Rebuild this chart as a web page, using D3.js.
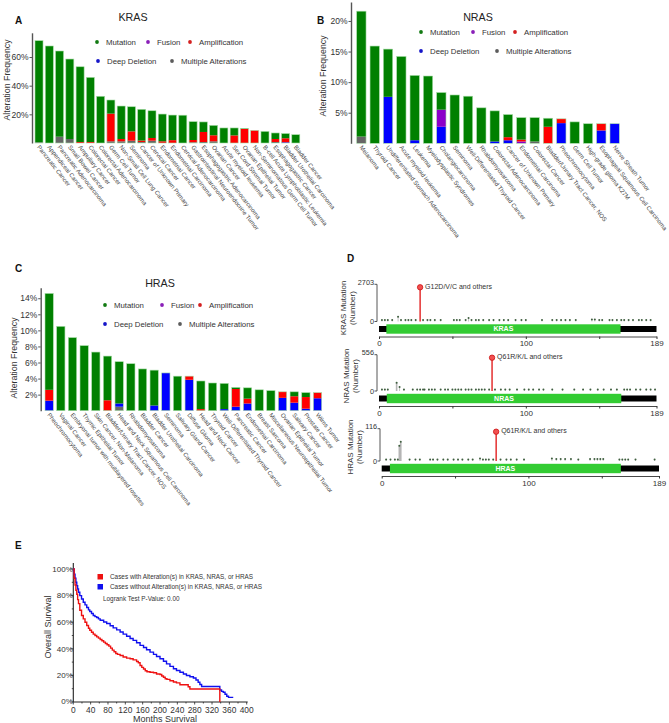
<!DOCTYPE html>
<html><head><meta charset="utf-8">
<script src="https://cdn.jsdelivr.net/npm/d3@7"></script>
<style>body{margin:0;background:#fff}svg{display:block;font-family:"Liberation Sans",Arial,Helvetica,sans-serif}</style>
</head><body><svg id="c" width="669" height="723"></svg>
<script>
// ---------------- DATA ----------------
const seriesNames = ["Mutation","Fusion","Amplification","Deep Deletion","Multiple Alterations"];

// Panel A: KRAS alteration frequency (%)
const krasCancers = ["Pancreatic Cancer","Appendiceal Cancer","Pancreatic Adenocarcinoma","Small Bowel Cancer","Ampullary Cancer","Colorectal Cancer","Colorectal Adenocarcinoma","Germ Cell Tumor","Non-Small Cell Lung Cancer","Seminoma","Cancer of Unknown Primary","Cervical Cancer","Endometrial Cancer","Endometrial Carcinoma","Cervical Adenocarcinoma","Gastrointestinal Neuroendocrine Tumor","Esophagogastric Adenocarcinoma","Ovarian Cancer","Acute myeloid leukemia","Sex Cord Stromal Tumor","Ovarian Epithelial Tumor","Non-Seminomatous Germ Cell Tumor","B-cell Acute Lymphoblastic Leukemia","Esophagogastric Cancer","Bladder Urothelial Carcinoma","Bladder Cancer"];
const krasMutation      = [70.9,67.7,59.8,55.8,52.5,45.1,32.6,9.5,23.0,17.2,21.8,19.0,19.0,17.5,19.4,12.8,7.0,6.9,10.5,5.2,0.4,0,8.1,4.2,3.3,5.8];
const krasFusion        = [0,0,0,0,0,0,0,0,0,0,0,0,0,0,0,0,0,0,0,0,0,0,0,0,0,0];
const krasAmplification = [0,0,0,0,0.7,0.7,0,19.3,1.6,6.5,1.0,1.9,1.2,2.0,0,1.6,7.0,4.2,0,5.3,9.8,8.8,0,2.1,2.8,0];
const krasDeepDeletion  = [0,0,0,0,0,0,0,0,0,0,0,0,0,0,0,0,0,0,0,0,0,0,0,0,0.5,0];
const krasMultiple      = [0.5,0,4.4,2.8,0,0,0,1.2,1.2,1.6,0.7,1.6,0,0,0,0.5,0.7,1.2,0,0,0,0,0,0.7,0,0];
const krasTicks = [20,40,60];

// Panel B: NRAS
const nrasCancers = ["Melanoma","Thyroid Cancer","Undifferentiated Stomach Adenocarcinoma","Acute myeloid leukemia","Leukemia","Myelodysplastic Syndromes","Cholangiocarcinoma","Seminoma","Well-Differentiated Thyroid Cancer","Rhabdomyosarcoma","Colorectal Adenocarcinoma","Cancer of Unknown Primary","Endometrial Carcinoma","Colorectal Cancer","Bladder/Urinary Tract Cancer, NOS","Pheochromocytoma","Germ Cell Tumor","High-grade glioma K27M","Esophageal Squamous Cell Carcinoma","Nerve Sheath Tumor"];
const nrasMutation      = [20.5,15.9,7.8,14.2,10.6,11.0,2.8,7.9,7.7,5.8,5.0,3.7,3.6,3.9,1.4,0,3.5,3.2,0,0];
const nrasFusion        = [0,0,0,0,0,0,2.8,0,0,0,0,0,0.3,0,0,0,0,0,0,0];
const nrasAmplification = [0,0,0,0,0,0,0,0,0,0,0,0.5,0.3,0,2.7,0.7,0,0,1.1,0];
const nrasDeepDeletion  = [0,0,7.6,0,0.5,0,2.7,0,0,0,0.3,0.5,0,0,0,3.3,0,0,2.1,3.2];
const nrasMultiple      = [1.1,0,0,0,0,0,0,0,0,0,0,0,0,0.3,0,0,0,0,0,0];
const nrasTicks = [5,10,15,20];

// Panel C: HRAS
const hrasCancers = ["Pheochromocytoma","Vaginal Cancer","Embryonal tumor with multilayered rosettes","Thymic Epithelial Tumor","Skin Cancer, Non-Melanoma","Bladder/Urinary Tract Cancer, NOS","Head and Neck Squamous Cell Carcinoma","Rhabdomyosarcoma","Bladder Cancer","Bladder Urothelial Carcinoma","Seminoma","Salivary Gland Cancer","Diffuse Glioma","Head and Neck Cancer","Thyroid Cancer","Well-Differentiated Thyroid Cancer","Pancreatic Cancer","Endometrial Carcinoma","Breast Sarcoma","Miscellaneous Neuroepithelial Tumor","Ovarian Epithelial Tumor","Salivary Cancer","Prostate Cancer","Wilms Tumor"];
const hrasMutation      = [12.0,10.5,9.1,8.1,7.3,5.5,5.2,5.85,5.2,4.4,0,4.3,0,3.5,3.45,3.2,0.2,1.35,2.6,2.5,0,0.55,0.55,0];
const hrasFusion        = [0,0,0,0,0,0,0,0,0,0,0,0,0,0,0,0,0,0,0,0,0,0,0,0];
const hrasAmplification = [1.35,0,0,0,0,1.3,0,0,0,0,0,0,0.45,0.2,0,0,2.2,0.6,0,0,0.75,0.8,1.45,0.7];
const hrasDeepDeletion  = [1.25,0,0,0,0,0,0.4,0,0,0.65,4.7,0,3.85,0,0,0.2,0.5,0.9,0,0,1.6,1.0,0.25,1.55];
const hrasMultiple      = [0,0,0,0,0,0,0.5,0,0,0,0,0,0,0,0,0,0,0,0,0,0,0,0,0];
const hrasTicks = [2,4,6,8,10,12,14];

// Panel D: lollipop mutation counts (protein length 189 aa)
const krasHotspot = {pos:28, count:2703, label:"G12D/V/C and others"};
const krasMutPos   = [2,4,6,9,13,15,18,20,22,25,30,33,35,38,42,51,53,55,59,61,63,66,68,71,75,78,82,85,88,93,97,100,111,118,121,124,127,130,134,145,147,150,152,157,159,162,165,167,170,173,177,179,182,185];
const krasMutCount = [120,120,120,120,380,120,120,120,120,120,120,120,120,120,120,120,120,120,120,277,120,120,120,120,120,120,120,120,120,120,120,120,120,120,120,120,120,120,120,150,150,120,120,120,120,120,120,120,120,120,120,120,120,120];
const nrasHotspot = {pos:77, count:556, label:"Q61R/K/L and others"};
const nrasMutPos   = [2,4,6,12,14,17,23,26,28,30,31,34,36,38,42,45,47,50,52,54,56,59,61,63,66,68,70,72,75,79,83,86,89,94,99,102,105,109,112,118,125,133,139,144,149,153,158,162,167,169,171,175,178,182,185,188];
const nrasMutCount = [25,25,25,139,67,25,25,25,25,25,25,25,25,25,25,25,25,25,25,25,25,25,25,25,25,25,25,25,25,25,25,25,25,25,25,25,25,25,25,25,25,25,25,25,25,25,25,25,25,25,25,25,25,25,25,25];
const hrasHotspot = {pos:78, count:116, label:"Q61R/K/L and others"};
const hrasMutPos   = [3,6,9,11,12,13,19,23,26,33,35,38,42,45,49,52,55,59,62,67,69,71,73,76,81,85,88,92,97,116,119,122,125,129,134,142,145,147,149,151,162,164,166,168,173,186];
const hrasMutCount = [6,6,6,6,60,76,6,6,6,6,6,6,6,6,6,6,6,6,6,10,6,6,6,6,6,6,6,6,6,10,8,8,8,8,6,8,8,8,8,8,6,6,6,6,6,6];
const geneNames = ["KRAS","NRAS","HRAS"];

// Panel E: Kaplan-Meier overall survival
const kmMonthsAltered   = [0,2,4,6,8,10,12,15,19,23,27,31,35,38,42,46,50,54,58,62,66,70,74,78,82,86,90,94,98,102,108,115,123,131,138,146,150,154,158,162,166,170,177,185,192,200,204,208,212,216,223,231,238,246,261,265,269,338,338];
const kmSurvivalAltered = [100,93,88,84,81,77,74,69,65,62.5,60,57.5,55.5,54,52.5,51,50,49,48,47,46,45,44,43,42,40.5,39,37.8,36.5,35.8,35,33.8,33,32.5,31.7,30.5,29.5,27.5,26,24.8,23.5,22.8,22.4,22,21,20.7,19.5,18.6,17.5,17,16,15,14.4,13,13,11.5,9.8,9.8,0];
const kmMonthsUnaltered   = [0,2,4,6,8,10,12,15,19,23,27,31,35,38,42,46,50,54,58,62,70,77,85,92,100,108,115,123,131,138,146,154,162,169,177,185,192,200,208,215,223,231,238,246,254,261,269,277,283,288,292,296,335,338,342,346,350,354,358,369];
const kmSurvivalUnaltered = [100,96,93,90,87.5,85,82.5,80,77.5,75,73,71,69.3,68,66.5,65,64.2,63.5,62.5,61.5,60.2,59,57.3,55.7,54.2,52.6,51,49.4,47.8,46.3,44.5,42.6,41,39.3,37.5,35.8,34.2,32.5,30.6,28.7,26.8,25,23.7,22.4,21.1,19.9,19,18.1,16.5,14.9,13.2,11.6,11.6,9,8,7.3,5.8,4.3,3.5,3.5];
const kmLegend = ["Cases with Alteration(s) in KRAS, NRAS, or HRAS","Cases without Alteration(s) in KRAS, NRAS, or HRAS"];
const kmPValue = "Logrank Test P-Value: 0.00";
const kmYTicks = [0,20,40,60,80,100];
const kmXTicks = [0,40,80,120,160,200,240,280,320,360,400];

// ---------------- DRAWING ----------------
const svg = d3.select("#c");
const TXT = "#333";
const colors = {"Mutation":"#008000","Fusion":"#8B00C9","Amplification":"#FF0000","Deep Deletion":"#0000FF","Multiple Alterations":"#666666"};
const dotColors = {"Mutation":"#127a12","Fusion":"#8a1fb8","Amplification":"#d42020","Deep Deletion":"#1515c8","Multiple Alterations":"#5c5c5c"};
const stackOrder = ["Multiple Alterations","Deep Deletion","Fusion","Amplification","Mutation"];

function panelLetter(t,x,y){
  svg.append("text").attr("x",x).attr("y",y).attr("font-size",10).attr("font-weight","bold").attr("fill","#111").text(t);
}

function barPanel(cfg){
  const data = cfg.cats.map((c,i)=>({cat:c,"Mutation":cfg.mut[i],"Fusion":cfg.fus[i],"Amplification":cfg.amp[i],"Deep Deletion":cfg.del[i],"Multiple Alterations":cfg.multi[i]}));
  data.forEach(d=>d.total=stackOrder.reduce((s,k)=>s+d[k],0));
  const x = d3.scaleBand().domain(cfg.cats).range(cfg.xRange).paddingInner(cfg.pad).paddingOuter(0);
  const y = d3.scaleLinear().domain([0,cfg.yMax]).range(cfg.yRange);
  const g = svg.append("g");
  const stacked = d3.stack().keys(stackOrder)(data);
  g.selectAll("g.s").data(stacked).join("g").attr("fill",d=>colors[d.key])
    .selectAll("rect").data(d=>d).join("rect")
    .attr("x",d=>x(d.data.cat)).attr("width",x.bandwidth())
    .attr("y",d=>y(d[1])).attr("height",d=>Math.max(0,y(d[0])-y(d[1])));
  g.selectAll("rect.o").data(data).join("rect").attr("class","o")
    .attr("x",d=>x(d.cat)).attr("width",x.bandwidth())
    .attr("y",d=>y(d.total)).attr("height",d=>y(0)-y(d.total))
    .attr("fill","none").attr("stroke","#a8dca8").attr("stroke-width",0.6);
  // y axis
  const ax = d3.axisLeft(y).tickValues(cfg.ticks).tickSize(2.5).tickSizeOuter(0).tickPadding(1).tickFormat(d=>d+"%");
  const ag = g.append("g").attr("transform",`translate(${cfg.axisX},0)`).call(ax);
  ag.select(".domain").attr("stroke","#555").attr("stroke-width",1.4);
  ag.selectAll(".tick line").attr("stroke","#555");
  ag.selectAll(".tick text").attr("font-size",8.5).attr("fill",TXT).attr("font-family",null);
  // x labels
  g.selectAll("text.xl").data(cfg.cats).join("text").attr("class","xl")
    .attr("transform",d=>`translate(${x(d)+x.bandwidth()/2-0.5},${y(0)+3}) rotate(52)`)
    .attr("dy","0.35em").attr("font-size",6.05).attr("fill","#444").text(d=>d);
  // y title
  svg.append("text").attr("transform",`translate(${cfg.yTitle[0]},${cfg.yTitle[1]}) rotate(-90)`)
    .attr("text-anchor","middle").attr("dy","0.35em").attr("font-size",8.8).attr("fill",TXT).text("Alteration Frequency");
  // gene title
  svg.append("text").attr("x",cfg.title[0]).attr("y",cfg.title[1]).attr("text-anchor","middle").attr("dy","0.35em")
    .attr("font-size",10.7).attr("fill","#222").text(cfg.gene);
  // legend
  cfg.legend.forEach((p,i)=>{
    const name = seriesNames[i];
    svg.append("circle").attr("cx",p[0]).attr("cy",p[1]).attr("r",1.9).attr("fill",dotColors[name]);
    svg.append("text").attr("x",p[0]+9).attr("y",p[1]).attr("dy","0.35em").attr("font-size",7.8).attr("fill",TXT).text(name);
  });
}

barPanel({gene:"KRAS",cats:krasCancers,mut:krasMutation,fus:krasFusion,amp:krasAmplification,del:krasDeepDeletion,multi:krasMultiple,
  ticks:krasTicks,xRange:[35,299.8],pad:0.22,yMax:76.9,yRange:[143,32.8],axisX:32,yTitle:[7,80],title:[133,17],
  legend:[[97,42],[148,42],[190,42],[98,61],[172,61]]});
barPanel({gene:"NRAS",cats:nrasCancers,mut:nrasMutation,fus:nrasFusion,amp:nrasAmplification,del:nrasDeepDeletion,multi:nrasMultiple,
  ticks:nrasTicks,xRange:[356.7,619.3],pad:0.3,yMax:23.1,yRange:[143.3,2],axisX:351,yTitle:[323,76],title:[478,17],
  legend:[[421,32],[473,32],[515,32],[421,51],[497,51]]});
barPanel({gene:"HRAS",cats:hrasCancers,mut:hrasMutation,fus:hrasFusion,amp:hrasAmplification,del:hrasDeepDeletion,multi:hrasMultiple,
  ticks:hrasTicks,xRange:[45,321.7],pad:0.29,yMax:15.3,yRange:[410.7,287.8],axisX:40.7,yTitle:[14,358],title:[160,283],
  legend:[[105,305],[162,305],[200,305],[105,324],[180,324]]});

panelLetter("A",15,24);
panelLetter("B",317,24);
panelLetter("C",15,272);
panelLetter("D",347,262);
panelLetter("E",15,549);

// ---------- Panel D: lollipops ----------
function lolliPanel(cfg){
  const x = d3.scaleLinear().domain([0,189]).range(cfg.xRange);
  const y = d3.scaleLinear().domain([0,cfg.hot.count]).range([cfg.base,cfg.top]);
  const g = svg.append("g");
  const sm = cfg.pos.map((p,i)=>({p:p,c:cfg.cnt[i]}));
  g.selectAll("line.s").data(sm).join("line").attr("class","s")
    .attr("x1",d=>x(d.p)).attr("x2",d=>x(d.p)).attr("y1",y(0)).attr("y2",d=>y(d.c))
    .attr("stroke","#b5b5b5").attr("stroke-width",d=>d.c/cfg.hot.count>0.2?1.6:0.8);
  g.selectAll("circle.s").data(sm).join("circle").attr("class","s")
    .attr("cx",d=>x(d.p)).attr("cy",d=>y(d.c)).attr("r",1.0).attr("fill","#3f5f3f");
  // hotspot
  g.append("line").attr("x1",x(cfg.hot.pos)).attr("x2",x(cfg.hot.pos)).attr("y1",y(0)).attr("y2",y(cfg.hot.count))
    .attr("stroke","#e01010").attr("stroke-width",1.3);
  g.append("circle").attr("cx",x(cfg.hot.pos)).attr("cy",y(cfg.hot.count)).attr("r",2.7)
    .attr("fill","#f25050").attr("stroke","#cc1111").attr("stroke-width",0.8);
  g.append("text").attr("x",x(cfg.hot.pos)+5).attr("y",y(cfg.hot.count)-1).attr("dy","0.35em")
    .attr("font-size",7).attr("fill",TXT).text(cfg.hot.label);
  // backbone + domain
  g.append("rect").attr("x",x(0)).attr("width",x(189)-x(0)).attr("y",cfg.base+4.5).attr("height",6).attr("fill","#000");
  g.append("rect").attr("x",x(cfg.domain[0])).attr("width",x(cfg.domain[1])-x(cfg.domain[0])).attr("y",cfg.base+2.8).attr("height",9.4).attr("fill","#33cc33");
  g.append("text").attr("x",(x(cfg.domain[0])+x(cfg.domain[1]))/2).attr("y",cfg.base+7.5).attr("dy","0.35em")
    .attr("text-anchor","middle").attr("font-size",7).attr("font-weight","bold").attr("fill","#fff").text(cfg.gene);
  // x axis
  const xa = d3.axisBottom(x).tickValues([0,50,100,150,189]).tickSize(2.5).tickSizeOuter(0).tickPadding(1.5)
    .tickFormat(d=>(d===50||d===150)?"":d);
  const xg = g.append("g").attr("transform",`translate(0,${cfg.base+15})`).call(xa);
  xg.select(".domain").attr("stroke","#333").attr("stroke-width",0.9);
  xg.selectAll(".tick line").attr("stroke","#333");
  xg.selectAll(".tick text").attr("font-size",8).attr("fill",TXT).attr("font-family",null);
  // y axis
  g.append("line").attr("x1",cfg.axisX).attr("x2",cfg.axisX).attr("y1",y(0)).attr("y2",y(cfg.hot.count)-3)
    .attr("stroke","#444").attr("stroke-width",0.9);
  [0,cfg.hot.count].forEach(v=>{
    const yy = v===0?y(0):y(v)-3;
    g.append("line").attr("x1",cfg.axisX-2.5).attr("x2",cfg.axisX).attr("y1",yy).attr("y2",yy).attr("stroke","#444").attr("stroke-width",0.9);
    g.append("text").attr("x",cfg.axisX-3).attr("y",yy).attr("dy",v===0?"0.35em":"0.1em").attr("text-anchor","end")
      .attr("font-size",7.3).attr("fill",TXT).text(v);
  });
  // y title
  const cy = cfg.labelY;
  svg.append("text").attr("transform",`translate(${cfg.labelX},${cy}) rotate(-90)`).attr("text-anchor","middle")
    .attr("font-size",8).attr("fill",TXT).text(cfg.gene+" Mutation");
  svg.append("text").attr("transform",`translate(${cfg.labelX+9},${cy}) rotate(-90)`).attr("text-anchor","middle")
    .attr("font-size",8).attr("fill",TXT).text("(Number)");
}
lolliPanel({gene:geneNames[0],hot:krasHotspot,pos:krasMutPos,cnt:krasMutCount,xRange:[379,656.5],base:321.5,top:287.3,axisX:377,domain:[5,164.5],labelX:346,labelY:308});
lolliPanel({gene:geneNames[1],hot:nrasHotspot,pos:nrasMutPos,cnt:nrasMutCount,xRange:[379,656.5],base:391,top:357.7,axisX:377,domain:[5.3,165],labelX:349,labelY:376});
lolliPanel({gene:geneNames[2],hot:hrasHotspot,pos:hrasMutPos,cnt:hrasMutCount,xRange:[381.7,659],base:461,top:431.7,axisX:380,domain:[5.6,163],labelX:353,labelY:447});

// ---------- Panel E: KM ----------
(function(){
  const x = d3.scaleLinear().domain([0,400]).range([73.3,246.7]);
  const y = d3.scaleLinear().domain([0,100]).range([702,569]);
  const g = svg.append("g");
  g.append("line").attr("x1",x(0)).attr("x2",x(0)).attr("y1",702).attr("y2",563).attr("stroke","#222").attr("stroke-width",1.1);
  g.append("line").attr("x1",x(0)).attr("x2",x(400)+1).attr("y1",702).attr("y2",702).attr("stroke","#222").attr("stroke-width",1.1);
  const yTickMinor = kmYTicks.slice(0,-1).map(v=>v+10);
  g.selectAll("line.ym").data(yTickMinor).join("line").attr("x1",x(0)-1.5).attr("x2",x(0)).attr("y1",d=>y(d)).attr("y2",d=>y(d)).attr("stroke","#222").attr("stroke-width",0.8);
  g.selectAll("line.yt").data(kmYTicks).join("line").attr("x1",x(0)-2.5).attr("x2",x(0)).attr("y1",d=>y(d)).attr("y2",d=>y(d)).attr("stroke","#222").attr("stroke-width",0.8);
  g.selectAll("text.yt").data(kmYTicks).join("text").attr("x",x(0)-0.5).attr("y",d=>y(d)-(d===0?1:0)).attr("dy","0.35em")
    .attr("text-anchor","end").attr("font-size",8).attr("fill",TXT).text(d=>d+"%");
  const xTickMinor = kmXTicks.slice(0,-1).map(v=>v+20);
  g.selectAll("line.xm").data(xTickMinor).join("line").attr("x1",d=>x(d)).attr("x2",d=>x(d)).attr("y1",702).attr("y2",703.5).attr("stroke","#222").attr("stroke-width",0.8);
  g.selectAll("line.xt").data(kmXTicks).join("line").attr("x1",d=>x(d)).attr("x2",d=>x(d)).attr("y1",702).attr("y2",704.5).attr("stroke","#222").attr("stroke-width",0.8);
  g.selectAll("text.xt").data(kmXTicks).join("text").attr("x",d=>x(d)).attr("y",713)
    .attr("text-anchor","middle").attr("font-size",8.4).attr("fill",TXT).text(d=>d);
  g.append("text").attr("x",165).attr("y",722).attr("text-anchor","middle").attr("font-size",9).attr("fill",TXT).text("Months Survival");
  g.append("text").attr("transform","translate(51,627) rotate(-90)").attr("text-anchor","middle").attr("font-size",9).attr("fill",TXT).text("Overall Survival");
  const line = d3.line().x(d=>x(d[0])).y(d=>y(d[1])).curve(d3.curveStepAfter);
  const alt = kmMonthsAltered.map((m,i)=>[m,kmSurvivalAltered[i]]);
  const un = kmMonthsUnaltered.map((m,i)=>[m,kmSurvivalUnaltered[i]]);
  g.append("path").attr("d",line(un)).attr("fill","none").attr("stroke","#1010ee").attr("stroke-width",1.4);
  g.append("path").attr("d",line(alt)).attr("fill","none").attr("stroke","#ee1111").attr("stroke-width",1.4);
  const lc = ["#ee1111","#1010ee"];
  kmLegend.forEach((t,i)=>{
    g.append("rect").attr("x",97.5).attr("y",574+i*10).attr("width",5.5).attr("height",5.5).attr("fill",lc[i]);
    g.append("text").attr("x",110).attr("y",577+i*10).attr("dy","0.35em").attr("font-size",6.4).attr("fill",TXT).text(t);
  });
  g.append("text").attr("x",103).attr("y",599).attr("dy","0.35em").attr("font-size",6.4).attr("fill",TXT).text(kmPValue);
})();
</script>
</body></html>
